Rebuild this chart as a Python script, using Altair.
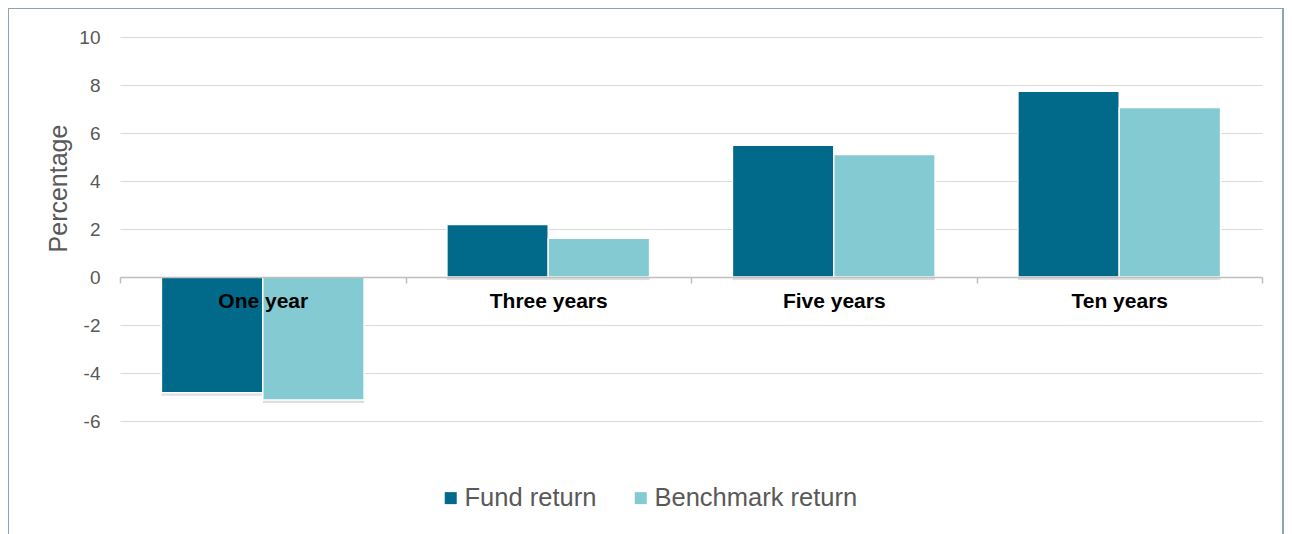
import altair as alt
import pandas as pd

categories = ["One year", "Three years", "Five years", "Ten years"]
series = ["Fund return", "Benchmark return"]
fund_values = [-4.82, 2.19, 5.49, 7.74]
bench_values = [-5.13, 1.61, 5.10, 7.06]
y_ticks = [-6, -4, -2, 0, 2, 4, 6, 8, 10]
colors = ["#016a8b", "#83cad3"]

rows = []
for c, f, b in zip(categories, fund_values, bench_values):
    rows.append({"category": c, "series": series[0], "value": f})
    rows.append({"category": c, "series": series[1], "value": b})
df = pd.DataFrame(rows)

x_enc = alt.X("category:N", sort=categories,
              scale=alt.Scale(paddingInner=0, paddingOuter=0),
              axis=alt.Axis(title=None, orient="bottom", offset=-144, zindex=1,
                            domainColor="#bfbfbf", domainWidth=1.5,
                            tickColor="#bfbfbf", tickSize=6, tickWidth=1.5,
                            tickBand="extent",
                            labelFont="Liberation Sans", labelFontSize=21,
                            labelFontWeight="bold", labelColor="#000000",
                            labelPadding=7, labelAngle=0, grid=False))
xoff_enc = alt.XOffset("series:N", sort=series,
                       scale=alt.Scale(paddingInner=0, paddingOuter=0.4085))
y_enc = alt.Y("value:Q",
              scale=alt.Scale(domain=[-6, 10], nice=False, zero=True),
              axis=alt.Axis(values=y_ticks, title="Percentage", zindex=0,
                            labelExpr="datum.value",
                            domain=False, ticks=False, grid=True,
                            gridColor="#d9d9d9", gridWidth=1.2,
                            labelFont="Liberation Sans", labelFontSize=19,
                            labelColor="#595959", labelPadding=20,
                            titleFont="Liberation Sans", titleFontSize=25,
                            titleFontWeight="normal", titleColor="#595959",
                            titleAngle=270, titleAlign="center",
                            titleBaseline="middle", titleX=-62, titleY=151))

base = alt.Chart(df)

shadow = base.mark_bar(color="#000000", opacity=0.13, xOffset=2, x2Offset=2,
                       yOffset=3, y2Offset=3).encode(
    x=x_enc, xOffset=xoff_enc, y=y_enc
)

bars = base.mark_bar(stroke="#ffffff", strokeWidth=1.5).encode(
    x=x_enc, xOffset=xoff_enc, y=y_enc,
    color=alt.Color("series:N", sort=series,
                    scale=alt.Scale(domain=series, range=colors),
                    legend=alt.Legend(title=None, orient="none", direction="horizontal",
                                      legendX=318, legendY=448, padding=0,
                                      symbolType="square", symbolSize=144,
                                      symbolStrokeWidth=0, labelOffset=1,
                                      columnPadding=31,
                                      labelFont="Liberation Sans", labelFontSize=25.5,
                                      labelColor="#595959", labelLimit=400))
)

border = alt.Chart(alt.Data(values=[{"a": 1}])).mark_rect(
    fill=None, stroke="#8ea4b6", strokeWidth=2
).encode(
    x=alt.value(-112), x2=alt.value(1163), y=alt.value(-29), y2=alt.value(540)
)

chart = alt.layer(border, shadow, bars).properties(
    width=1142, height=384,
    autosize=alt.AutoSizeParams(type="none"),
    padding={"left": 112, "top": 29, "right": 22, "bottom": 113},
).configure(background="#ffffff").configure_view(strokeWidth=0)

chart.save("out.html", embed_options={"renderer": "svg", "actions": False})
